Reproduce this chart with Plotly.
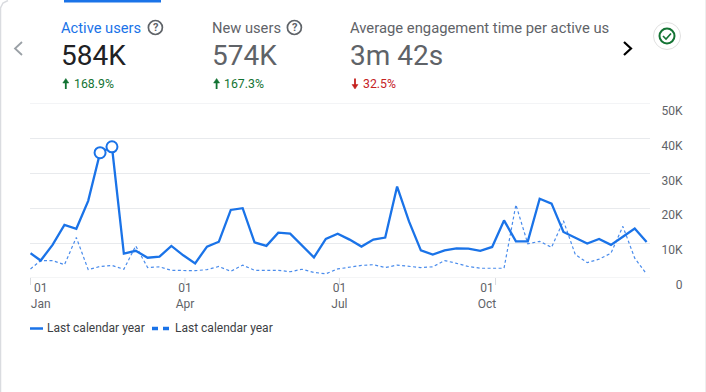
from datetime import date, timedelta

import plotly.graph_objects as go

W, H = 706, 392

# first bucket is the stub week starting 1 Jan 2024, then weeks starting on Sundays
week_starts = [date(2024, 1, 1)] + [date(2024, 1, 7) + timedelta(days=7 * i) for i in range(52)]
active_users = [7.1, 5.0, 9.5, 15.2, 14.1, 22.1, 35.9, 37.6, 7.0, 7.8, 5.8, 6.1, 9.2, 6.5, 4.2, 9.0, 10.4, 19.5, 20.0,
                10.2, 9.2, 13.0, 12.7, 9.3, 5.9, 11.2, 12.7, 11.0, 9.0, 11.0, 11.6, 26.2, 16.2, 7.9, 6.7, 7.9, 8.5, 8.4,
                7.8, 8.9, 16.5, 10.5, 10.5, 22.7, 21.3, 13.2, 11.5, 9.9, 11.2, 9.5, 11.8, 14.2, 10.3]
previous_users = [2.6, 5.0, 5.0, 3.8, 11.6, 2.4, 3.3, 3.6, 2.5, 9.2, 3.0, 3.2, 2.2, 2.1, 2.1, 2.4, 3.3, 1.9, 3.7,
                  2.2, 2.2, 2.2, 1.8, 2.5, 1.6, 1.2, 2.6, 3.1, 3.6, 3.8, 3.0, 3.7, 3.3, 3.0, 3.2, 5.0, 4.2, 3.3,
                  2.8, 2.7, 2.8, 21.0, 9.8, 10.5, 8.8, 16.4, 6.7, 4.4, 5.4, 7.1, 14.8, 5.7, 1.1]
highlighted = [6, 7]

y_ticks = [0, 10, 20, 30, 40, 50]
y_labels = ["0", "10K", "20K", "30K", "40K", "50K"]
x_label_pos = ["2024-01-07", "2024-04-01", "2024-07-01", "2024-09-26"]
x_labels = ["01<br>Jan", "01<br>Apr", "01<br>Jul", "01<br>Oct"]
x_tick_pos = ["2024-01-01", "2024-04-01", "2024-07-01", "2024-10-01"]
series_name = "Last calendar year"

BLUE = "#1a73e8"
GREY = "#5f6368"
GREEN = "#137333"
RED = "#c5221f"
GRID = "#e8eaed"
FONT = "Roboto"


def px(x):
    return x / W


def py(y):
    return 1 - y / H


def path(points, close=False):
    d = "M " + " L ".join(f"{px(x):.5f},{py(y):.5f}" for x, y in points)
    return d + (" Z" if close else "")


fig = go.Figure()
fig.add_trace(go.Scatter(x=week_starts, y=previous_users, mode="lines", name=series_name,
                         line=dict(color="#4a8cec", width=1.2, dash="3px,2.5px")))
fig.add_trace(go.Scatter(x=week_starts, y=active_users, mode="lines", name=series_name,
                         line=dict(color=BLUE, width=2.3)))
fig.add_trace(go.Scatter(x=[week_starts[i] for i in highlighted], y=[active_users[i] for i in highlighted],
                         mode="markers", showlegend=False,
                         marker=dict(size=11, color="white", line=dict(color=BLUE, width=2))))

annotations = []


def text(x, y, s, size, color, anchor="left"):
    annotations.append(dict(xref="paper", yref="paper", x=px(x), y=py(y), text=s, showarrow=False,
                            xanchor=anchor, yanchor="middle", xshift=0, borderpad=0, borderwidth=0,
                            font=dict(family=FONT, size=size, color=color)))


text(61, 28, "Active users", 14.7, BLUE)
text(212, 28, "New users", 14.7, GREY)
text(350, 28, "Average engagement time per active us", 14.8, GREY)
text(61, 56, "584K", 28, "#202124")
text(212, 56, "574K", 28, GREY)
text(350, 56, "3m 42s", 28, GREY)
text(73.5, 84, "168.9%", 12.3, GREEN)
text(224.5, 84, "167.3%", 12.3, GREEN)
text(362.5, 84, "32.5%", 12.3, RED)
text(155.5, 27.5, "<b>?</b>", 11, GREY, "center")
text(294.5, 27.5, "<b>?</b>", 11, GREY, "center")
text(47, 328, series_name, 12, "#3c4043")
text(175, 328, series_name, 12, "#3c4043")

shapes = []


def circle(cx, cy, r, line, width=1.5, fill="rgba(0,0,0,0)"):
    shapes.append(dict(type="circle", xref="paper", yref="paper", x0=px(cx - r), x1=px(cx + r),
                       y0=py(cy + r), y1=py(cy - r), line=dict(color=line, width=width), fillcolor=fill))


def stroke(points, color, width):
    shapes.append(dict(type="path", xref="paper", yref="paper", path=path(points),
                       line=dict(color=color, width=width)))


def arrow(cx, tip, tail, color):
    d = 1 if tail > tip else -1
    shapes.append(dict(type="path", xref="paper", yref="paper",
                       path=path([(cx - 3, tip + 4.5 * d), (cx, tip), (cx + 3, tip + 4.5 * d)], close=True),
                       fillcolor=color, line=dict(color=color, width=0.5)))
    stroke([(cx, tip + 3 * d), (cx, tail)], color, 1.8)


# card outline and selected-tab bar
stroke([(0.5, 392), (0.5, 8), (3, 3), (8, 0.5)], "#dadce0", 1.5)
stroke([(705.5, 392), (705.5, 0)], "#eeeeee", 1)
stroke([(64, 1), (161, 1)], BLUE, 3)
# help icons
circle(155.4, 27.5, 7, GREY, 1.7)
circle(294.4, 27.5, 7, GREY, 1.7)
# change arrows
arrow(65.8, 78.5, 89, GREEN)
arrow(216.6, 78.5, 89, GREEN)
arrow(355, 89, 78.5, RED)
# carousel arrows
stroke([(22, 42), (15, 48.5), (22, 55)], "#9aa0a6", 1.8)
stroke([(624, 42), (631, 48.5), (624, 55)], "#000000", 2.2)
# status icon
circle(667, 36, 13.5, "#e0e0e0", 1)
circle(667, 36, 7.5, GREEN, 2)
stroke([(663, 36), (666, 39), (671, 33.5)], GREEN, 1.6)
# legend keys
stroke([(30, 328.5), (43, 328.5)], BLUE, 2.5)
stroke([(152, 328.5), (158, 328.5)], BLUE, 3.5)
stroke([(163, 328.5), (169, 328.5)], BLUE, 3.5)
# top and bottom gridlines, which the axis leaves out at its range ends
for v in (y_ticks[0], y_ticks[-1]):
    shapes.append(dict(type="line", xref="paper", yref="y", x0=px(30), x1=px(650), y0=v, y1=v,
                       line=dict(color=GRID, width=1), layer="below"))
# x axis tick marks
for v in x_tick_pos:
    shapes.append(dict(type="line", xref="x", yref="paper", x0=v, x1=v, y0=py(278), y1=py(285),
                       line=dict(color="#dadce0", width=1), layer="below"))

fig.update_layout(
    width=W, height=H, autosize=False,
    margin=dict(l=0, r=0, t=0, b=0, pad=0, autoexpand=False),
    paper_bgcolor="white", plot_bgcolor="white",
    showlegend=False, hovermode=False,
    font=dict(family=FONT, size=12, color=GREY),
    annotations=annotations, shapes=shapes,
    xaxis=dict(type="date", domain=[px(30), px(650)], range=["2023-12-31 17:00", "2024-12-31"],
               showgrid=False, zeroline=False, showline=False,
               tickmode="array", tickvals=x_label_pos, ticktext=x_labels, ticks="",
               ticklabelstandoff=1, automargin=False,
               tickfont=dict(family=FONT, size=12, color=GREY), anchor="y"),
    yaxis=dict(domain=[py(278), py(103.5)], range=[0, 50], side="left", anchor="free", position=px(682.5),
               tickmode="array", tickvals=y_ticks, ticktext=y_labels, ticks="", automargin=False,
               showgrid=True, gridcolor=GRID, gridwidth=1, zeroline=False, showline=False,
               ticklabelshift=7,
               tickfont=dict(family=FONT, size=12, color=GREY)),
)

fig.write_html("out.html", config=dict(displayModeBar=False),
               post_script="document.documentElement.style.overflow='hidden';"
                           "document.body.style.margin='0';document.body.style.overflow='hidden';")
